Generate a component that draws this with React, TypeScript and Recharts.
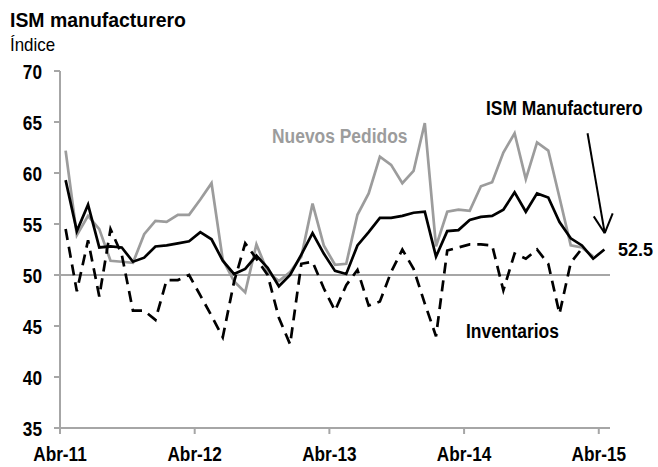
import React from "react";
import { LineChart, Line, XAxis, YAxis, ReferenceLine } from "recharts";

// meses abr-11 .. abr-15 (49 observaciones)
const monthNames = ["Abr", "May", "Jun", "Jul", "Ago", "Sep", "Oct", "Nov", "Dic", "Ene", "Feb", "Mar"];
const months = Array.from({ length: 49 }, (_, i) => `${monthNames[i % 12]}-${11 + Math.floor((i + 3) / 12)}`);

const tickLabels = ["Abr-11", "Abr-12", "Abr-13", "Abr-14", "Abr-15"];

const ism = [
  59.3, 54.3, 56.9, 52.7, 52.8, 52.7, 51.3, 51.7, 52.8, 52.9, 53.1, 53.3,
  54.2, 53.5, 51.4, 50.1, 50.6, 51.9, 50.7, 48.9, 50.0, 52.0, 54.1, 52.1,
  50.4, 50.1, 52.9, 54.2, 55.6, 55.6, 55.8, 56.1, 56.2, 51.8, 54.3, 54.4,
  55.4, 55.7, 55.8, 56.4, 58.1, 56.2, 58.0, 57.6, 55.2, 53.6, 52.9, 51.6,
  52.5,
];

const nuevosPedidos = [
  62.2, 53.9, 55.8, 54.5, 51.4, 51.3, 51.2, 54.0, 55.3, 55.2, 55.9, 55.9,
  57.4, 59.0, 51.5, 49.4, 48.3, 53.0, 50.3, 49.4, 50.3, 51.8, 57.0, 52.9,
  51.0, 51.1, 55.9, 58.0, 61.6, 60.8, 59.0, 60.2, 64.9, 52.8, 56.2, 56.4,
  56.3, 58.7, 59.1, 62.0, 63.9, 59.4, 63.0, 62.2, 57.6, 52.9, 52.7, 51.8,
  null,
];

const inventarios = [
  54.5, 48.4, 53.4, 47.9, 54.5, 52.0, 46.5, 46.5, 45.6, 49.5, 49.5, 50.0,
  48.0, 46.0, 43.9, 49.3, 53.1, 51.6, 50.0, 45.8, 43.2, 51.1, 51.3, 48.7,
  46.5, 49.0, 50.5, 47.0, 47.4, 50.3, 52.5, 50.6, 47.2, 44.0, 52.4, 52.7,
  53.0, 53.0, 52.9, 48.5, 52.1, 51.6, 52.5, 51.1, 46.2, 51.2, 52.6, null,
  null,
];

const data = months.map((mes, i) => ({
  x: i + 0.5,
  mes,
  ism: ism[i],
  pedidos: nuevosPedidos[i],
  inventarios: inventarios[i],
}));

const font = "'Liberation Sans', Arial, sans-serif";
const axisGray = "#a6a6a6";
const lineGray = "#9c9c9c";

// texto "angosto" (Arial Narrow no está disponible)
const NarrowText = ({ x, y, anchor = "start", size = 21, weight = "bold", fill = "#000", sx = 0.82, children }: any) => (
  <g transform={`translate(${x},${y}) scale(${sx},1)`}>
    <text x={0} y={0} textAnchor={anchor} fontFamily={font} fontSize={size} fontWeight={weight} fill={fill}>
      {children}
    </text>
  </g>
);

const XTick = (props: any) => {
  const { x, y, payload } = props;
  return <NarrowText x={x} y={y + 15} anchor="middle">{tickLabels[payload.value / 12]}</NarrowText>;
};

const YTick = (props: any) => {
  const { x, y, payload } = props;
  return <NarrowText x={x} y={y + 7.5} anchor="end">{payload.value}</NarrowText>;
};

const App = () => {
  return (
    <div style={{ position: "absolute", left: 0, top: 0, width: 658, height: 467, background: "#fff" }}>
      <LineChart width={658} height={467} data={data} margin={{ top: 71, right: 48, left: 0, bottom: 0 }}>
        <ReferenceLine y={50} stroke={axisGray} strokeWidth={2} />
        <XAxis
          type="number"
          dataKey="x"
          domain={[0, 49]}
          ticks={[0, 12, 24, 36, 48]}
          interval={0}
          height={39}
          axisLine={{ stroke: axisGray, strokeWidth: 2 }}
          tickLine={{ stroke: axisGray, strokeWidth: 2 }}
          tickSize={6}
          tickMargin={12}
          tick={<XTick />}
        />
        <YAxis
          domain={[35, 70]}
          ticks={[35, 40, 45, 50, 55, 60, 65, 70]}
          interval={0}
          width={60}
          axisLine={{ stroke: axisGray, strokeWidth: 2 }}
          tickLine={{ stroke: axisGray, strokeWidth: 2 }}
          tickSize={6}
          tickMargin={12}
          tick={<YTick />}
        />
        <Line dataKey="pedidos" stroke={lineGray} strokeWidth={2.7} dot={false} isAnimationActive={false} />
        <Line
          dataKey="inventarios"
          stroke="#000"
          strokeWidth={2.7}
          strokeDasharray="11 7"
          dot={false}
          isAnimationActive={false}
        />
        <Line dataKey="ism" stroke="#000" strokeWidth={2.7} dot={false} isAnimationActive={false} />
        <ReferenceLine
          segment={[{ x: 47.0, y: 63.9 }, { x: 48.53, y: 54.1 }]}
          stroke="#000"
          strokeWidth={2}
          ifOverflow="visible"
        />
        <ReferenceLine
          segment={[{ x: 47.55, y: 55.75 }, { x: 48.53, y: 54.1 }]}
          stroke="#000"
          strokeWidth={2}
          ifOverflow="visible"
        />
        <ReferenceLine
          segment={[{ x: 49.24, y: 56.05 }, { x: 48.53, y: 54.1 }]}
          stroke="#000"
          strokeWidth={2}
          ifOverflow="visible"
        />
      </LineChart>
      <svg
        width={658}
        height={467}
        style={{ position: "absolute", left: 0, top: 0, pointerEvents: "none" }}
      >
        <NarrowText x={10} y={27} sx={0.926}>ISM manufacturero</NarrowText>
        <NarrowText x={10} y={51} size={18} weight="normal" sx={0.94}>Índice</NarrowText>
        <NarrowText x={272} y={143} fill={lineGray} sx={0.83}>Nuevos Pedidos</NarrowText>
        <NarrowText x={486} y={115} sx={0.83}>ISM Manufacturero</NarrowText>
        <NarrowText x={466} y={338} sx={0.83}>Inventarios</NarrowText>
        <text x={618} y={256} fontFamily={font} fontWeight="bold" fontSize={18} fill="#000">
          52.5
        </text>
      </svg>
    </div>
  );
};

export default App;
